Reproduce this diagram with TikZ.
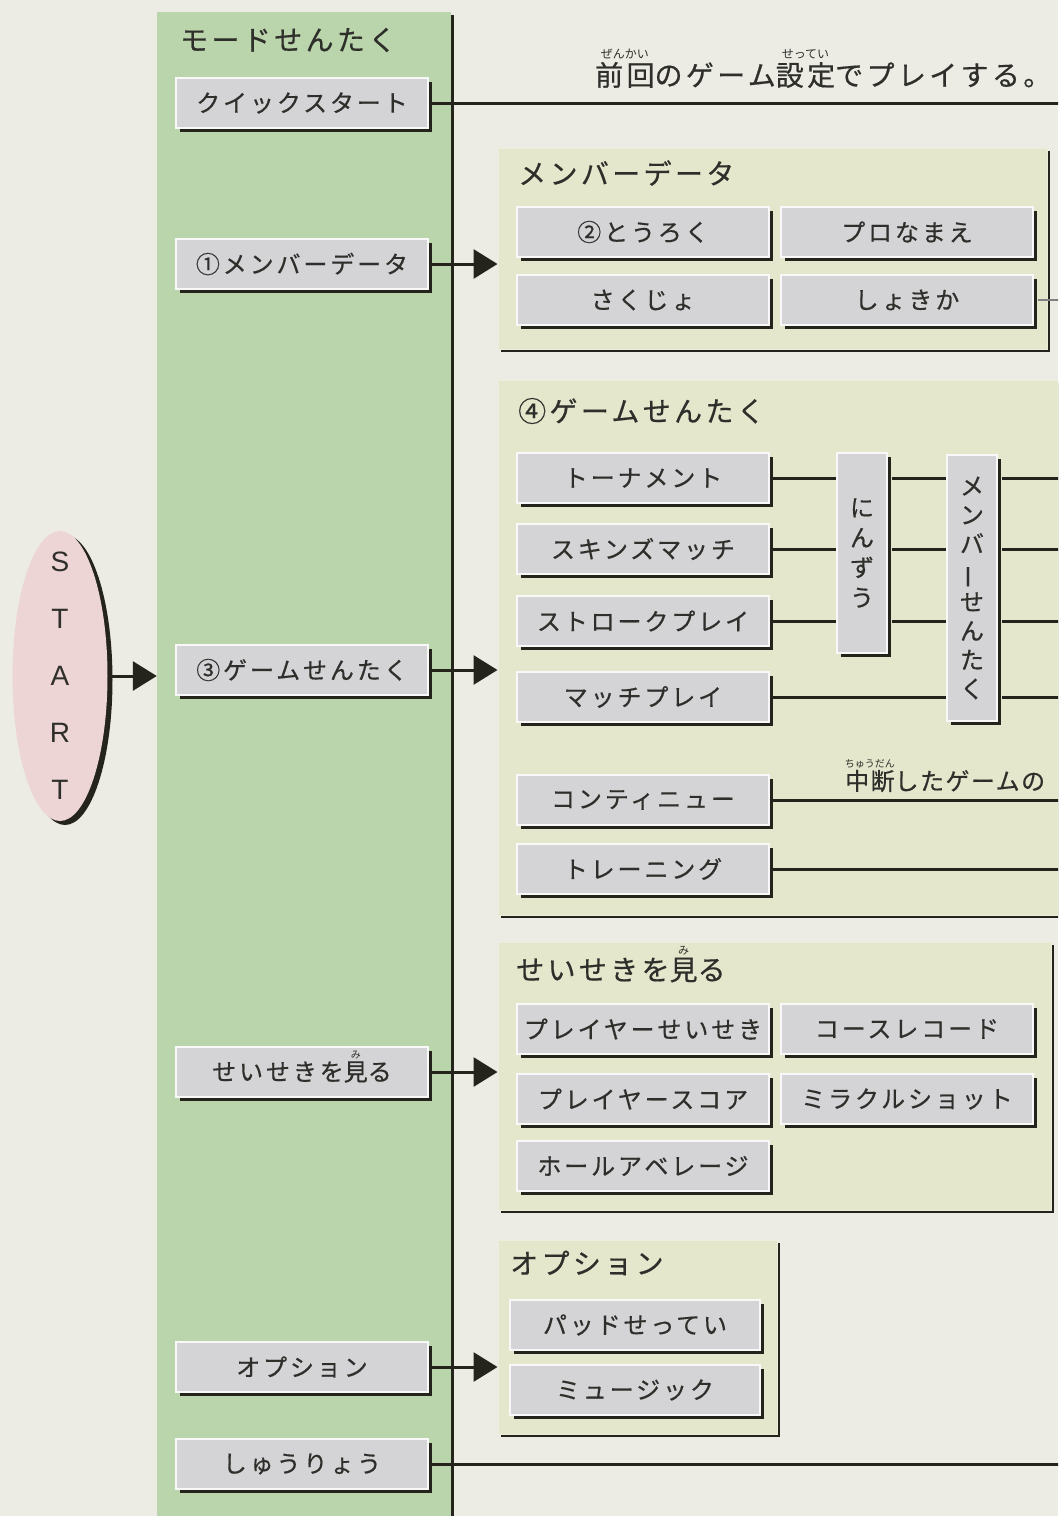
\documentclass[tikz,border=0pt]{standalone}
\usepackage{fontspec}
\usetikzlibrary{shapes.geometric,shadows,arrows.meta}
\newfontfamily\jp{Noto Sans CJK JP}[LetterSpace=12, FakeBold=0.5]
\newfontfamily\jpn{Noto Sans CJK JP}[LetterSpace=6, FakeBold=0.5]
\newfontfamily\jpr{Noto Sans CJK JP}
\newfontfamily\latn{Liberation Sans}
\definecolor{bgc}{HTML}{ECECE5}
\definecolor{grn}{HTML}{BAD5AC}
\definecolor{pnlc}{HTML}{E4E7CC}
\definecolor{btnc}{HTML}{D4D3D6}
\definecolor{drk}{HTML}{24241D}
\definecolor{txt}{HTML}{2E2E2A}
\definecolor{pnk}{HTML}{EDD4D5}
\newsavebox\rbbox
\newcommand\rubyx[4]{\sbox\rbbox{#1}\makebox[0pt][l]{\makebox[\wd\rbbox][c]{\smash{\raisebox{#3}{\jpr\fontsize{#4}{#4}\selectfont #2}}}}\usebox\rbbox}
\begin{document}
\begin{tikzpicture}[x=1pt,y=-1pt,
  btn/.style={rectangle, fill=btnc, draw=white!85!btnc, line width=1.2pt, inner sep=0pt,
    minimum height=50pt, minimum width=252pt,
    drop shadow={shadow xshift=4pt, shadow yshift=-4pt, fill=drk, opacity=1},
    font=\jp\fontsize{24pt}{28pt}\selectfont, text=txt},
  vbtn/.style={btn, minimum width=50pt, align=center},
  pnl/.style={rectangle, fill=pnlc, draw=pnlc!70!white, line width=1pt, inner sep=0pt,
    drop shadow={shadow xshift=3pt, shadow yshift=-3pt, fill=drk, opacity=1}},
  ttl/.style={anchor=west, inner sep=0pt, font=\jp\fontsize{28pt}{32pt}\selectfont, text=txt},
  ln/.style={draw=drk, line width=3pt},
  arr/.style={draw=drk, line width=3pt, -{Triangle[length=24pt,width=29pt]}}
]
\clip (0,0) rectangle (1058,1516);
\fill[bgc] (0,0) rectangle (1058,1516);
\coordinate (edge) at (1062,0);

% mode panel
\node[rectangle, fill=grn, inner sep=0pt, minimum width=294pt, minimum height=1530pt,
  drop shadow={shadow xshift=3pt, shadow yshift=-3pt, fill=drk, opacity=1}] (mode) at (304,777) {};
\node[ttl] (modet) at (180,40) {モードせんたく};

% START
\node[ellipse, fill=pnk, minimum width=95pt, minimum height=290pt, inner sep=0pt,
  drop shadow={shadow xshift=5pt, shadow yshift=-4pt, fill=drk, opacity=1}] (start) at (60,676) {};
\node[align=center, inner sep=0pt, font=\latn\fontsize{28pt}{57pt}\selectfont, text=txt] (startl) at (start.center) {S\\T\\A\\R\\T};

% right panels
\node[pnl, minimum width=549pt, minimum height=201pt] (mdp) at (772.5,248.5) {};
\node[pnl, minimum width=580pt, minimum height=535pt] (gsp) at (788,647.5) {};
\node[pnl, minimum width=553pt, minimum height=268pt] (ssp) at (774.5,1076) {};
\node[pnl, minimum width=279pt, minimum height=194pt] (opp) at (637.5,1337) {};

% left buttons
\node[btn] (qs) at (302,103) {クイックスタート};
\node[btn] (md) at (302,264) {①メンバーデータ};
\node[btn] (gs) at (302,670) {③ゲームせんたく};
\node[btn] (ss) at (302,1072) {せいせきを\rubyx{見}{み}{22pt}{10pt}る};
\node[btn] (op) at (302,1367) {オプション};
\node[btn] (sr) at (302,1464) {しゅうりょう};

% member data
\node[ttl] (mdt) at (518,173) {メンバーデータ};
\node[btn] (tor) at (643,232) {②とうろく};
\node[btn] (pro) at (907,232) {プロなまえ};
\node[btn] (sak) at (643,300) {さくじょ};
\node[btn] (shk) at (907,300) {しょきか};

% game select
\node[ttl] (gst) at (518,411) {④ゲームせんたく};
\node[btn] (g1) at (643,478) {トーナメント};
\node[btn] (g2) at (643,549) {スキンズマッチ};
\node[btn] (g3) at (643,621) {ストロークプレイ};
\node[btn] (g4) at (643,697) {マッチプレイ};
\node[btn] (g5) at (643,800) {コンティニュー};
\node[btn] (g6) at (643,869) {トレーニング};
\node[vbtn, minimum height=200pt, font=\jp\fontsize{24pt}{30pt}\selectfont] (nin) at (862,553) {に\\ん\\ず\\う};
\node[vbtn, minimum height=266pt, font=\jp\fontsize{24pt}{29pt}\selectfont] (mem) at (972,588)
  {メ\\ン\\バ\\\rotatebox[origin=c]{90}{ー}\\せ\\ん\\た\\く};

% seiseki
\node[ttl] (sst) at (516,970) {せいせきを\rubyx{見}{み}{26pt}{11pt}る};
\node[btn] (s1) at (643,1029) {プレイヤーせいせき};
\node[btn] (s2) at (907,1029) {コースレコード};
\node[btn] (s3) at (643,1099) {プレイヤースコア};
\node[btn] (s4) at (907,1099) {ミラクルショット};
\node[btn] (s5) at (643,1166) {ホールアベレージ};

% options
\node[ttl] (opt) at (510,1263) {オプション};
\node[btn, minimum width=250pt] (o1) at (635,1325) {パッドせってい};
\node[btn, minimum width=250pt] (o2) at (635,1390) {ミュージック};

% notes
\node[ttl] (note1) at (595,75) {\rubyx{前回}{ぜんかい}{27pt}{12pt}のゲーム\rubyx{設定}{せってい}{27pt}{12pt}でプレイする。};
\node[ttl, font=\jpn\fontsize{24pt}{30pt}\selectfont] (note2) at (845,781) {\rubyx{中断}{ちゅうだん}{23pt}{10pt}したゲームの};

% connectors
\draw[arr] (start.east) -- (start.east -| mode.west);
\draw[ln] (qs.east) -- (qs.east -| edge);
\draw[arr] (md.east) -- (md.east -| mdp.west);
\draw[arr] (gs.east) -- (gs.east -| gsp.west);
\draw[arr] (ss.east) -- (ss.east -| ssp.west);
\draw[arr] (op.east) -- (op.east -| opp.west);
\draw[ln] (sr.east) -- (sr.east -| edge);
\draw[draw=gray, line width=1.2pt] ([xshift=4pt]shk.east) -- (shk.east -| edge);

\foreach \g in {g1,g2,g3}{
  \draw[ln] (\g.east) -- (\g.east -| nin.west);
  \draw[ln] ([xshift=4pt]\g.east -| nin.east) -- (\g.east -| mem.west);
}
\draw[ln] (g4.east) -- (g4.east -| mem.west);
\foreach \g in {g1,g2,g3,g4}{
  \draw[ln] ([xshift=4pt]\g.east -| mem.east) -- (\g.east -| edge);
}
\draw[ln] (g5.east) -- (g5.east -| edge);
\draw[ln] (g6.east) -- (g6.east -| edge);
\end{tikzpicture}
\end{document}
